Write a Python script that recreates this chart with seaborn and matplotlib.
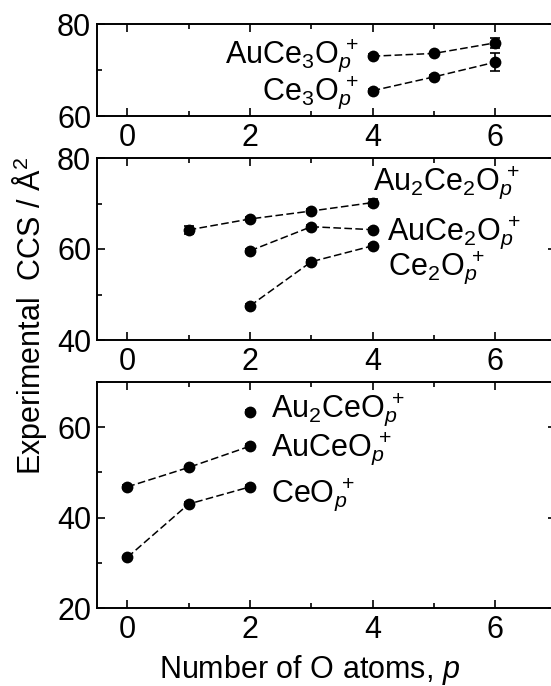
import numpy as np
import pandas as pd
import matplotlib
matplotlib.use("Agg")
import matplotlib.pyplot as plt
import seaborn as sns
from matplotlib.ticker import MultipleLocator

# ---------------- data ----------------
p_auce3 = [4, 5, 6]
ccs_auce3 = [73.0, 73.6, 75.9]
err_auce3 = [0.4, 0.4, 1.1]
p_ce3 = [4, 5, 6]
ccs_ce3 = [65.5, 68.5, 71.7]
err_ce3 = [0.4, 0.4, 1.9]

p_au2ce2 = [1, 2, 3, 4]
ccs_au2ce2 = [64.2, 66.6, 68.35, 70.2]
err_au2ce2 = [0.8, 0.4, 0.4, 0.8]
p_auce2 = [2, 3, 4]
ccs_auce2 = [59.6, 64.9, 64.25]
err_auce2 = [0.4, 0.4, 0.4]
p_ce2 = [2, 3, 4]
ccs_ce2 = [47.5, 57.2, 60.7]
err_ce2 = [0.4, 0.4, 0.4]

p_au2ce = [2]
ccs_au2ce = [63.4]
err_au2ce = [0.4]
p_auce = [0, 1, 2]
ccs_auce = [46.8, 51.1, 55.8]
err_auce = [0.4, 0.4, 0.4]
p_ce = [0, 1, 2]
ccs_ce = [31.2, 43.0, 46.8]
err_ce = [0.4, 0.4, 0.4]

SUF = r"O$_{p\!\!}$$^{+}$"
labels_top = ["AuCe$_3$" + SUF, "Ce$_3$" + SUF]
labels_mid = ["Au$_2$Ce$_2$" + SUF, "AuCe$_2$" + SUF, "Ce$_2$" + SUF]
labels_bot = ["Au$_2$Ce" + SUF, "AuCe" + SUF, "Ce" + SUF]
xticks = [0, 2, 4, 6]
ylabel = r"Experimental  CCS / Å$^2$"
xlabel = r"Number of O atoms, $p$"

# ---------------- style ----------------
sns.set_theme(style="ticks")
plt.rcParams["font.family"] = ["Liberation Sans", "DejaVu Sans"]
plt.rcParams["mathtext.fontset"] = "custom"
plt.rcParams["mathtext.rm"] = "Liberation Sans"
plt.rcParams["mathtext.it"] = "Liberation Sans:italic"
plt.rcParams["mathtext.bf"] = "Liberation Sans:bold"
for key in ["text.color", "axes.labelcolor", "xtick.color", "ytick.color",
            "axes.edgecolor"]:
    plt.rcParams[key] = "black"
FS = 22

fig = plt.figure(figsize=(5.51, 6.86), dpi=100)
W, H = 551.0, 686.0
left = 96.7 / W
width = (556.5 - 96.7) / W


def make_ax(top_px, bot_px):
    return fig.add_axes([left, (H - bot_px) / H, width, (bot_px - top_px) / H])


ax_top = make_ax(24, 116)
ax_mid = make_ax(158, 340)
ax_bot = make_ax(382, 608)


def draw(ax, series):
    rows = []
    for name, ps, vals, errs in series:
        for p, v, e in zip(ps, vals, errs):
            rows.append({"species": name, "p": p, "ccs": v, "err": e})
    df = pd.DataFrame(rows)
    pal = {name: "black" for name, *_ in series}
    sns.lineplot(data=df, x="p", y="ccs", hue="species", palette=pal,
                 marker="o", markersize=8.5, markeredgecolor="black",
                 markeredgewidth=0, linewidth=1.1, legend=False, ax=ax,
                 errorbar=None, sort=False)
    for ln in ax.lines:
        ln.set_dashes((5, 2.2))
    for name, ps, vals, errs in series:
        ax.errorbar(ps, vals, yerr=errs, fmt="none", ecolor="black",
                    elinewidth=1.2, capsize=3.5, capthick=1.2, zorder=1)


draw(ax_top, [("AuCe3", p_auce3, ccs_auce3, err_auce3),
              ("Ce3", p_ce3, ccs_ce3, err_ce3)])
draw(ax_mid, [("Au2Ce2", p_au2ce2, ccs_au2ce2, err_au2ce2),
              ("AuCe2", p_auce2, ccs_auce2, err_auce2),
              ("Ce2", p_ce2, ccs_ce2, err_ce2)])
draw(ax_bot, [("Au2Ce", p_au2ce, ccs_au2ce, err_au2ce),
              ("AuCe", p_auce, ccs_auce, err_auce),
              ("Ce", p_ce, ccs_ce, err_ce)])

ylims = [(60, 80), (40, 80), (20, 70)]
for ax, yl in zip([ax_top, ax_mid, ax_bot], ylims):
    ax.set_xlim(-0.5, 7.0)
    ax.set_ylim(*yl)
    ax.set_xticks(xticks)
    ax.xaxis.set_minor_locator(MultipleLocator(1))
    ax.yaxis.set_major_locator(MultipleLocator(20))
    ax.yaxis.set_minor_locator(MultipleLocator(10))
    ax.set_xlabel("")
    ax.set_ylabel("")
    for s in ax.spines.values():
        s.set_visible(True)
        s.set_linewidth(1.4)
        s.set_color("black")
    ax.tick_params(which="both", direction="in", top=True, right=True,
                   color="black", labelcolor="black", width=1.2)
    ax.tick_params(which="major", length=5.5, labelsize=FS, pad=4)
    ax.tick_params(which="minor", length=3.5)
    ax.tick_params(axis="x", which="major", pad=5)
    ax.set_facecolor("white")

# annotations
ax_top.text(3.77, 71.45, labels_top[0], ha="right", va="baseline", fontsize=FS)
ax_top.text(3.77, 63.5, labels_top[1], ha="right", va="baseline", fontsize=FS)

ax_mid.text(4.01, 72.97, labels_mid[0], ha="left", va="baseline", fontsize=FS)
ax_mid.text(4.24, 62.1, labels_mid[1], ha="left", va="baseline", fontsize=FS)
ax_mid.text(4.25, 54.3, labels_mid[2], ha="left", va="baseline", fontsize=FS)

ax_bot.text(2.35, 62.3, labels_bot[0], ha="left", va="baseline", fontsize=FS)
ax_bot.text(2.35, 53.7, labels_bot[1], ha="left", va="baseline", fontsize=FS)
ax_bot.text(2.35, 43.5, labels_bot[2], ha="left", va="baseline", fontsize=FS)

fig.text(30 / W, (H - 316) / H, ylabel, rotation=90, ha="center",
         va="center", fontsize=FS)
fig.text(310 / W, 8 / H, xlabel, ha="center", va="baseline", fontsize=FS)

fig.savefig("out.png", dpi=100, facecolor="white")
